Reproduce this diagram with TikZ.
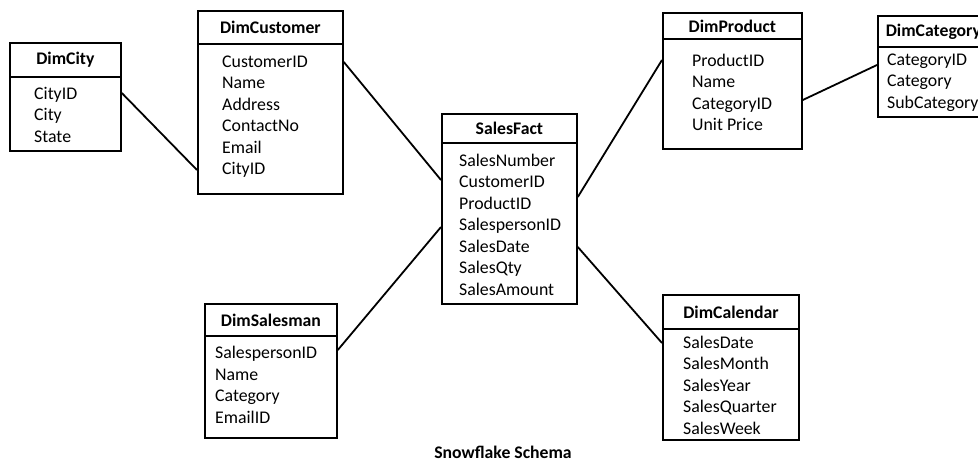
\documentclass[tikz,border=0pt]{standalone}
\usepackage{fontspec}
\setmainfont{Carlito}
\begin{document}
\begin{tikzpicture}[x=1pt,y=-1pt,
  tbl/.style={draw, line width=1.8pt, inner sep=0pt, anchor=north west},
  ttl/.style={tbl, font=\fontsize{17.7}{21.5}\selectfont\bfseries},
  rows/.style={inner sep=0pt, anchor=west, align=left, font=\fontsize{17.8}{21.5}\selectfont},
  conn/.style={line width=1.8pt},
  captxt/.style={font=\fontsize{17.7}{21.5}\selectfont\bfseries}
]
\useasboundingbox[fill=white] (0,0) rectangle (978,463);
\clip (0,0) rectangle (978,463);

% DimCity
\node[ttl, minimum width=111pt, minimum height=34pt] (cityT) at (9,42) {DimCity};
\node[tbl, minimum width=111pt, minimum height=74pt] (cityB) at (9,76) {};
\node[rows] (cityL) at (34,114.5) {CityID\\City\\State};

% DimCustomer
\node[ttl, minimum width=145pt, minimum height=33pt] (custT) at (197,10) {DimCustomer};
\node[tbl, minimum width=145pt, minimum height=150pt] (custB) at (197,43) {};
\node[rows] (custL) at (222,116.5) {CustomerID\\Name\\Address\\ContactNo\\Email\\CityID};

% SalesFact
\node[ttl, minimum width=135pt, minimum height=29pt] (factT) at (441,113) {SalesFact};
\node[tbl, minimum width=135pt, minimum height=161pt] (factB) at (441,142) {};
\node[rows] (factL) at (459,224.5) {SalesNumber\\CustomerID\\ProductID\\SalespersonID\\SalesDate\\SalesQty\\SalesAmount};

% DimSalesman
\node[ttl, minimum width=132pt, minimum height=32pt] (salT) at (204,303) {DimSalesman};
\node[tbl, minimum width=132pt, minimum height=102pt] (salB) at (204,335) {};
\node[rows] (salL) at (215,385) {SalespersonID\\Name\\Category\\EmailID};

% DimProduct
\node[ttl, minimum width=139pt, minimum height=26pt] (prodT) at (662,12) {DimProduct};
\node[tbl, minimum width=139pt, minimum height=110pt] (prodB) at (662,38) {};
\node[rows] (prodL) at (692,92.5) {ProductID\\Name\\CategoryID\\Unit Price};

% DimCalendar
\node[ttl, minimum width=136pt, minimum height=34pt] (calT) at (662,294) {DimCalendar};
\node[tbl, minimum width=136pt, minimum height=111pt] (calB) at (662,328) {};
\node[rows] (calL) at (683,385) {SalesDate\\SalesMonth\\SalesYear\\SalesQuarter\\SalesWeek};

% DimCategory
\node[ttl, minimum width=111pt, minimum height=31pt] (catT) at (877,15) {DimCategory};
\node[tbl, minimum width=111pt, minimum height=70pt] (catB) at (877,46) {};
\node[rows] (catL) at (887,82.5) {CategoryID\\Category\\SubCategory};

% connectors
\draw[conn] (cityB.east |- 0,93) -- (custB.west |- 0,170);
\draw[conn] (custB.east |- 0,62) -- (factB.west |- 0,180);
\draw[conn] (salB.east |- 0,350) -- (factB.west |- 0,227);
\draw[conn] (factB.east |- 0,197) -- (prodB.west |- 0,60);
\draw[conn] (factB.east |- 0,247) -- (calB.west |- 0,343);
\draw[conn] (prodB.east |- 0,100) -- (catB.west |- 0,65);

% caption
\node[captxt] (caption) at (503,452) {Snowflake Schema};
\end{tikzpicture}
\end{document}
